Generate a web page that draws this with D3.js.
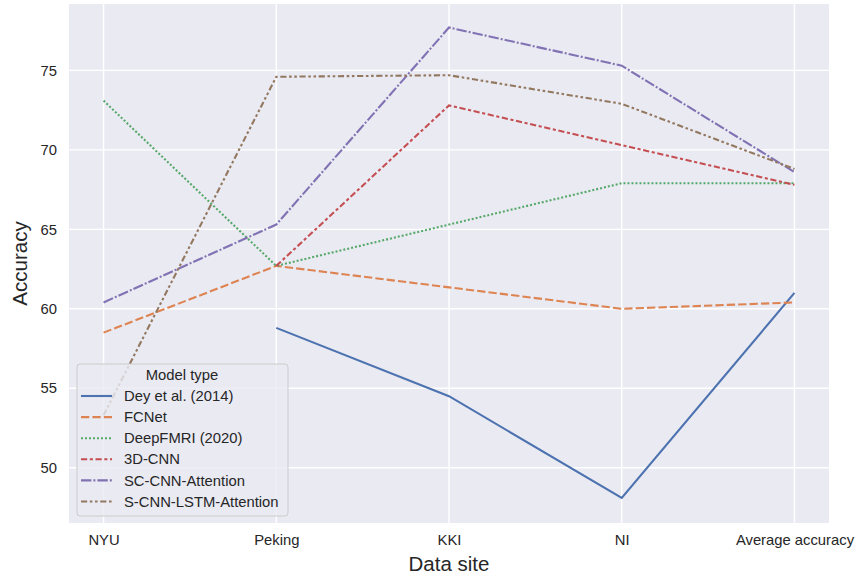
<!DOCTYPE html>
<html>
<head>
<meta charset="utf-8">
<script src="https://cdn.jsdelivr.net/npm/d3@7"></script>
<style>
  body { margin: 0; background: #fff; }
  text { font-family: "Liberation Sans", Arial, sans-serif; }
</style>
</head>
<body>
<div id="chart"></div>
<script>
// data
var sites = ["NYU", "Peking", "KKI", "NI", "Average accuracy"];
var models = ["Dey et al. (2014)", "FCNet", "DeepFMRI (2020)", "3D-CNN", "SC-CNN-Attention", "S-CNN-LSTM-Attention"];
var dey = [null, 58.8, 54.5, 48.1, 61.0];
var fcnet = [58.5, 62.7, 61.35, 60.0, 60.4];
var deepfmri = [73.1, 62.7, 65.3, 67.9, 67.9];
var cnn3d = [null, 62.7, 72.8, 70.3, 67.8];
var scAttention = [60.4, 65.3, 77.7, 75.3, 68.6];
var lstmAttention = [53.3, 74.6, 74.7, 72.9, 68.8];
var yTicks = [50, 55, 60, 65, 70, 75];

var series = [dey, fcnet, deepfmri, cnn3d, scAttention, lstmAttention];
var colors = ["#4c72b0", "#dd8452", "#55a868", "#c44e52", "#8172b3", "#937860"];
var dashes = ["", "8.3,3.1", "2,2", "6.2,2.6,3.1,2.6", "10.4,2,2,2", "6.2,2.6,2.6,2.6,2.6,2.6"];

var width = 860, height = 580;
var pLeft = 69, pRight = 829, pTop = 4, pBottom = 523;

var svg = d3.select("#chart").append("svg")
    .attr("width", width)
    .attr("height", height);

var x = d3.scaleLinear().domain([-0.2, 4.2]).range([pLeft, pRight]);
var y = d3.scaleLinear().domain([46.52, 79.18]).range([pBottom, pTop]);

svg.append("rect")
    .attr("x", pLeft).attr("y", pTop)
    .attr("width", pRight - pLeft).attr("height", pBottom - pTop)
    .attr("fill", "#eaeaf2");

// grid
svg.append("g").selectAll("line")
    .data(yTicks).enter().append("line")
    .attr("x1", pLeft).attr("x2", pRight)
    .attr("y1", function(d) { return y(d); })
    .attr("y2", function(d) { return y(d); })
    .attr("stroke", "#fff").attr("stroke-width", 1.4);

svg.append("g").selectAll("line")
    .data(sites).enter().append("line")
    .attr("y1", pTop).attr("y2", pBottom)
    .attr("x1", function(d, i) { return x(i); })
    .attr("x2", function(d, i) { return x(i); })
    .attr("stroke", "#fff").attr("stroke-width", 1.4);

// axes
var xAxis = svg.append("g")
    .attr("transform", "translate(0," + pBottom + ")")
    .call(d3.axisBottom(x).tickValues(d3.range(sites.length))
        .tickFormat(function(i) { return sites[i]; }).tickSize(0).tickPadding(11));
var yAxis = svg.append("g")
    .attr("transform", "translate(" + pLeft + ",0)")
    .call(d3.axisLeft(y).tickValues(yTicks).tickSize(0).tickPadding(12));

[xAxis, yAxis].forEach(function(a) {
    a.select(".domain").remove();
    a.selectAll("text")
        .style("font-size", "14.8px")
        .style("fill", "#262626")
        .style("font-family", "'Liberation Sans', Arial, sans-serif");
});

svg.append("text")
    .attr("x", (pLeft + pRight) / 2).attr("y", 571)
    .attr("text-anchor", "middle")
    .style("font-size", "20.5px").style("fill", "#262626")
    .text("Data site");

svg.append("text")
    .attr("transform", "translate(27," + ((pTop + pBottom) / 2) + ") rotate(-90)")
    .attr("text-anchor", "middle")
    .style("font-size", "20.5px").style("fill", "#262626")
    .text("Accuracy");

// lines
var line = d3.line()
    .defined(function(d) { return d != null; })
    .x(function(d, i) { return x(i); })
    .y(function(d) { return y(d); });

series.forEach(function(s, k) {
    svg.append("path")
        .datum(s)
        .attr("d", line)
        .attr("fill", "none")
        .attr("stroke", colors[k])
        .attr("stroke-width", 2.1)
        .attr("stroke-dasharray", dashes[k]);
});

// legend
var lg = svg.append("g").attr("transform", "translate(77,364)");
lg.append("rect")
    .attr("width", 211).attr("height", 152)
    .attr("rx", 3)
    .attr("fill", "#eaeaf2").attr("fill-opacity", 0.8)
    .attr("stroke", "#cccccc").attr("stroke-width", 1);
lg.append("text")
    .attr("x", 105).attr("y", 16)
    .attr("text-anchor", "middle")
    .style("font-size", "14.8px").style("fill", "#262626")
    .text("Model type");
var item = lg.selectAll(".item")
    .data(models).enter().append("g")
    .attr("class", "item")
    .attr("transform", function(d, i) { return "translate(0," + (32 + i * 21.1) + ")"; });
item.append("line")
    .attr("x1", 4).attr("x2", 35)
    .attr("stroke", function(d, i) { return colors[i]; })
    .attr("stroke-width", 2.1)
    .attr("stroke-dasharray", function(d, i) { return dashes[i]; });
item.append("text")
    .attr("x", 47).attr("dy", "0.35em")
    .style("font-size", "14.8px").style("fill", "#262626")
    .text(function(d) { return d; });
</script>
</body>
</html>
